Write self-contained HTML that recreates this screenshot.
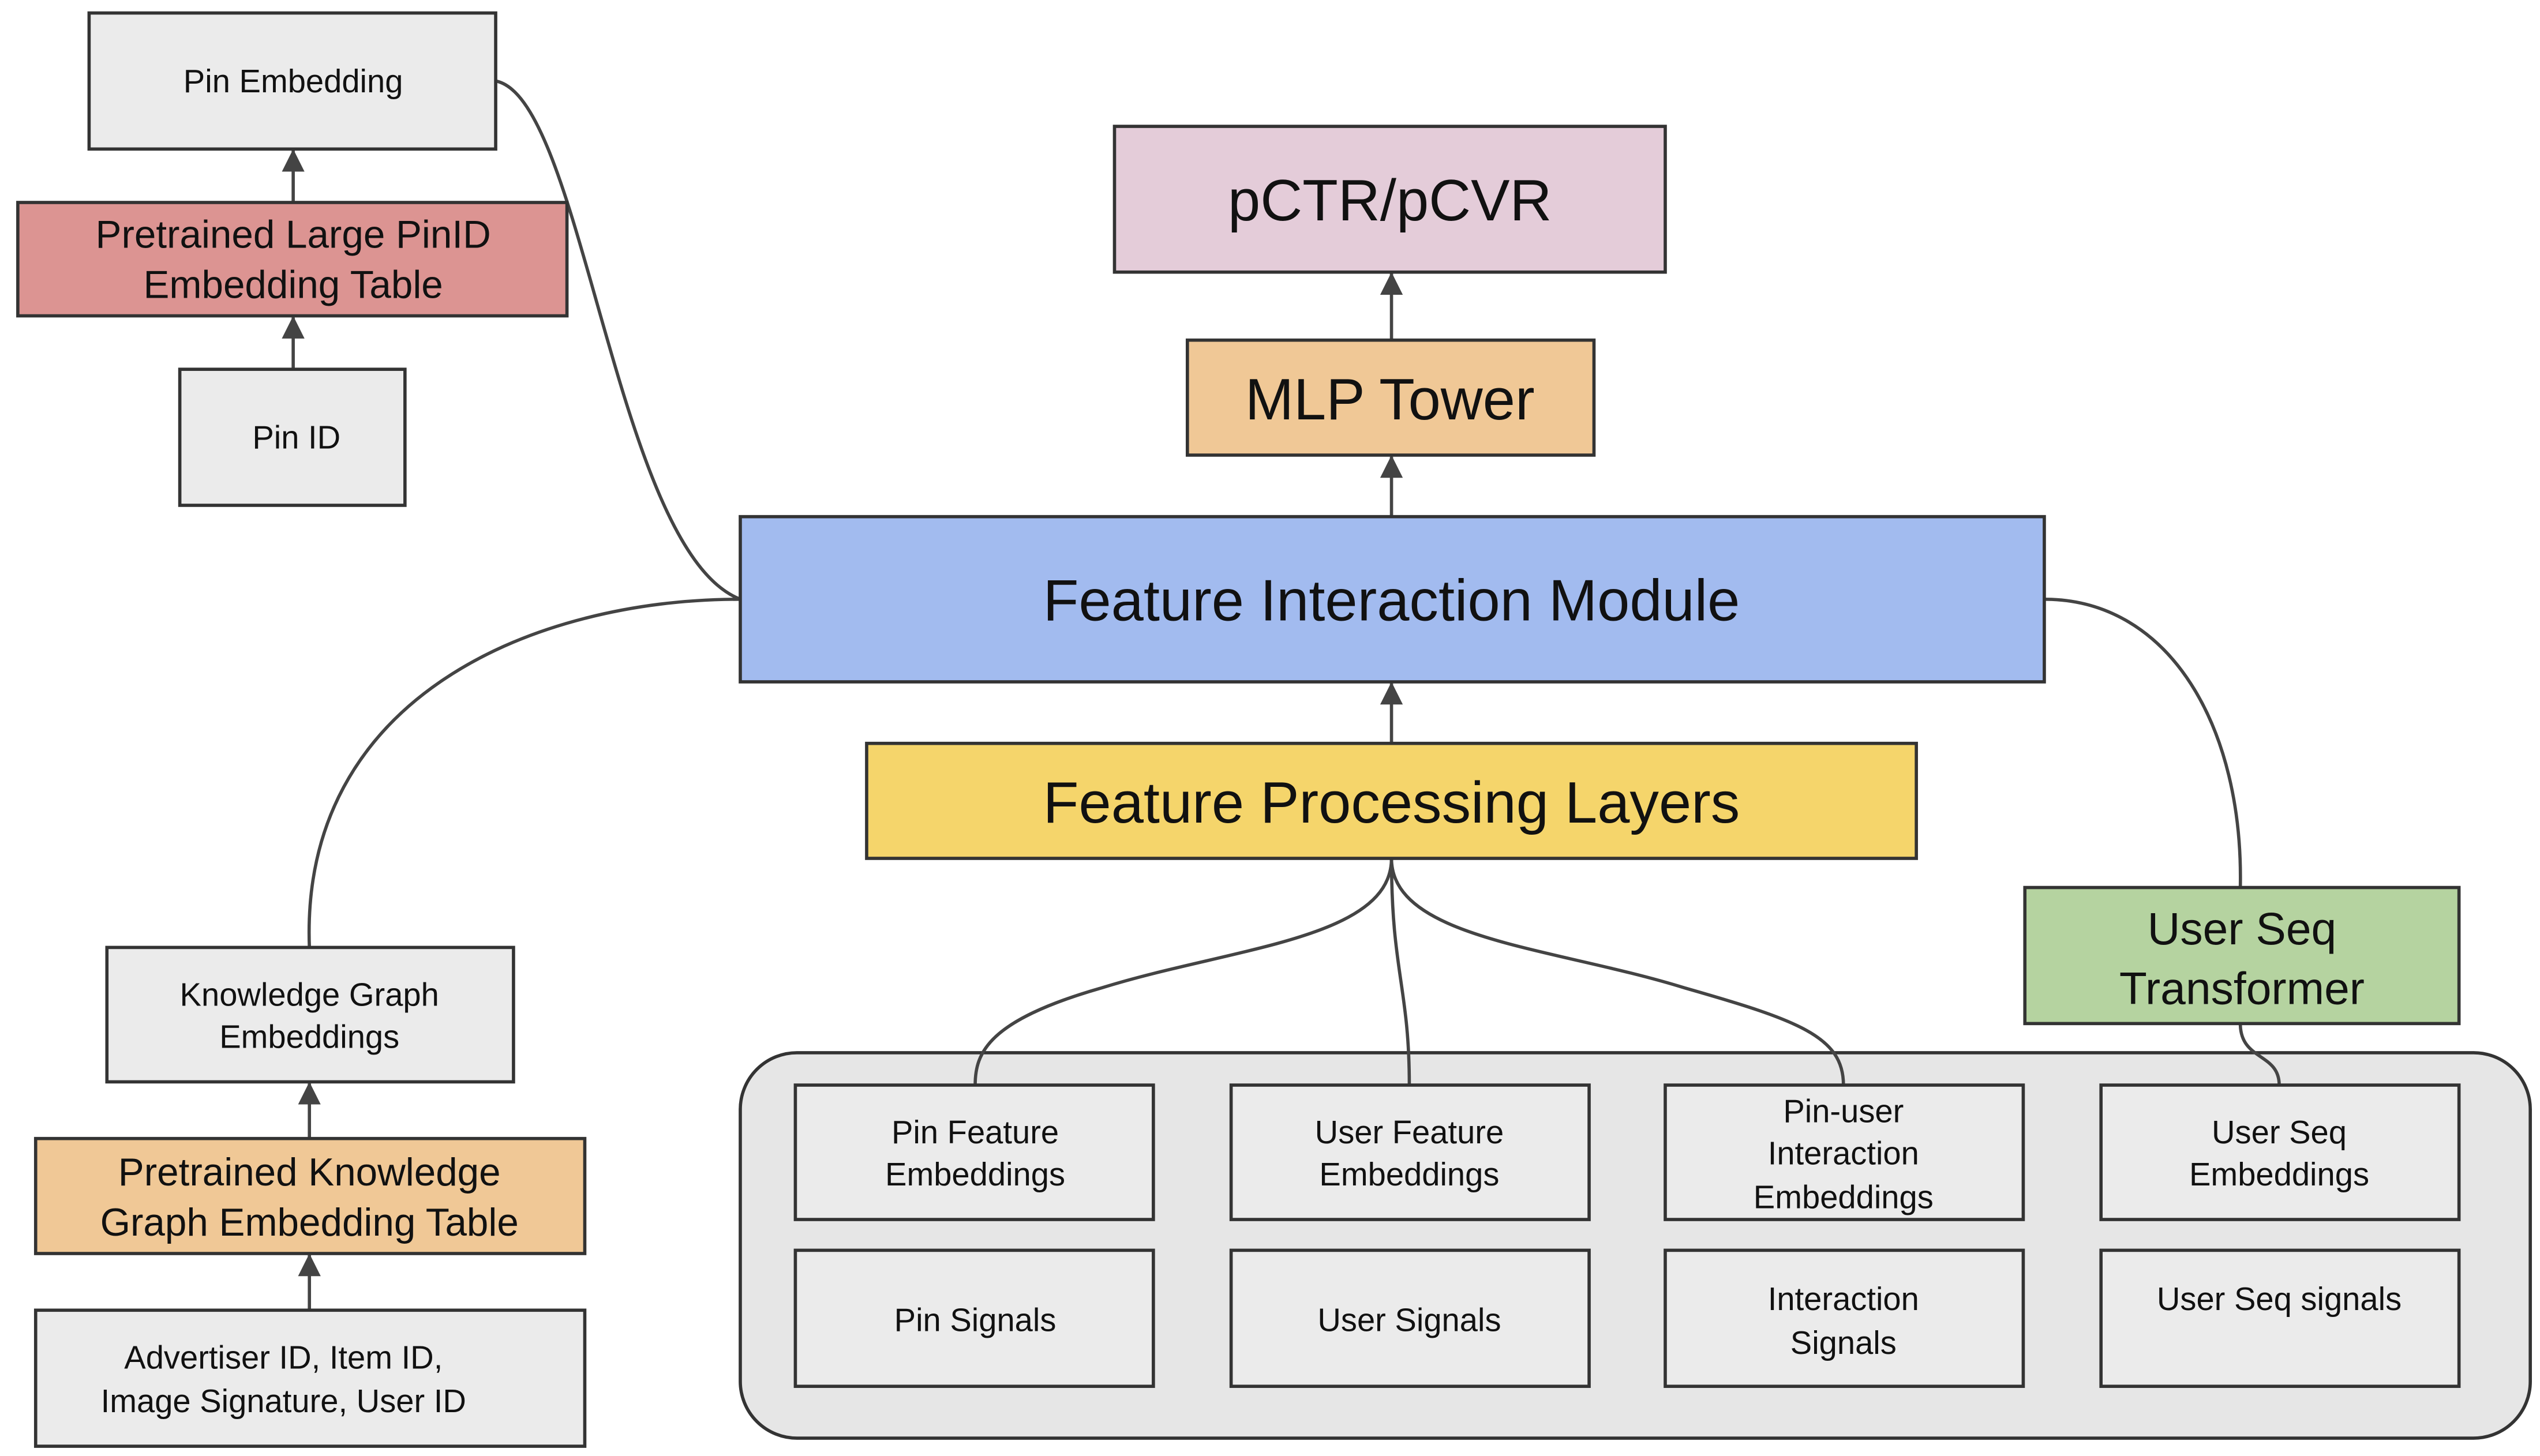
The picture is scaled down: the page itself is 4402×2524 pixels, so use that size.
<!DOCTYPE html>
<html><head><meta charset="utf-8"><style>
html,body{margin:0;padding:0;background:#fff;}
svg{display:block;}
text{font-family:"Liberation Sans",Arial,sans-serif;fill:#111;text-anchor:middle;}
.s{font-size:20px;}
.m{font-size:24px;}
.l{font-size:36px;}
.b{stroke:#333;stroke-width:2;}
.c{fill:none;stroke:#444;stroke-width:2;}
</style></head><body>
<svg width="4402" height="2524" viewBox="0 0 1568 899" xmlns="http://www.w3.org/2000/svg">
<defs>
<marker id="ar" markerWidth="14" markerHeight="14" refX="13" refY="7" orient="auto" markerUnits="userSpaceOnUse" viewBox="0 0 14 14"><path d="M0,0 L14,7 L0,14 z" fill="#444"/></marker></defs>

<!-- container -->
<rect class="b" x="457" y="650" width="1105" height="238" rx="35" fill="#e6e6e6"/>

<!-- curves -->
<path class="c" d="M306,50 C360,60 380,340 457,370"/>
<path class="c" d="M191,585 C185,430 330,370 457,370"/>
<path class="c" d="M1262,370 C1340,370 1385,450 1383,548"/>
<path class="c" d="M1383,632 C1383,655 1407,650 1407,670"/>
<path class="c" d="M859,530 C859,580 760,585 680,610 C610,630 602,650 602,670"/>
<path class="c" d="M859,530 C859,600 870,610 870,670"/>
<path class="c" d="M859,530 C859,580 960,585 1040,610 C1110,630 1138,640 1138,670"/>

<!-- arrows -->
<g class="c" marker-end="url(#ar)">
<line x1="181" y1="125" x2="181" y2="93"/>
<line x1="181" y1="228" x2="181" y2="196"/>
<line x1="859" y1="210" x2="859" y2="169"/>
<line x1="859" y1="319" x2="859" y2="282"/>
<line x1="859" y1="459" x2="859" y2="422"/>
<line x1="191" y1="703" x2="191" y2="669"/>
<line x1="191" y1="809" x2="191" y2="775"/>
</g>

<!-- left nodes -->
<rect class="b" x="55" y="8" width="251" height="84" fill="#ebebeb"/>
<text class="s" x="181" y="57">Pin Embedding</text>
<rect class="b" x="11" y="125" width="339" height="70" fill="#dc9492"/>
<text class="m" x="181" y="153">Pretrained Large PinID</text>
<text class="m" x="181" y="184">Embedding Table</text>
<rect class="b" x="111" y="228" width="139" height="84" fill="#ebebeb"/>
<text class="s" x="183" y="277">Pin ID</text>

<rect class="b" x="66" y="585" width="251" height="83" fill="#ebebeb"/>
<text class="s" x="191" y="621">Knowledge Graph</text>
<text class="s" x="191" y="647">Embeddings</text>
<rect class="b" x="22" y="703" width="339" height="71" fill="#f0c896"/>
<text class="m" x="191" y="732">Pretrained Knowledge</text>
<text class="m" x="191" y="763">Graph Embedding Table</text>
<rect class="b" x="22" y="809" width="339" height="84" fill="#ebebeb"/>
<text class="s" x="175" y="845">Advertiser ID, Item ID,</text>
<text class="s" x="175" y="872">Image Signature, User ID</text>

<!-- center nodes -->
<rect class="b" x="688" y="78" width="340" height="90" fill="#e4ccd9"/>
<text class="l" x="858" y="136">pCTR/pCVR</text>
<rect class="b" x="733" y="210" width="251" height="71" fill="#f0c896"/>
<text class="l" x="858" y="259">MLP Tower</text>
<rect class="b" x="457" y="319" width="805" height="102" fill="#a2bbef"/>
<text class="l" x="859" y="383">Feature Interaction Module</text>
<rect class="b" x="535" y="459" width="648" height="71" fill="#f5d56b"/>
<text class="l" x="859" y="508">Feature Processing Layers</text>
<rect class="b" x="1250" y="548" width="268" height="84" fill="#b5d3a0"/>
<text class="m" x="1384" y="583" style="font-size:28px">User Seq</text>
<text class="m" x="1384" y="620" style="font-size:28px">Transformer</text>

<g fill="#ebebeb" class="b">
<rect x="491" y="670" width="221" height="83"/><rect x="760" y="670" width="221" height="83"/>
<rect x="1028" y="670" width="221" height="83"/><rect x="1297" y="670" width="221" height="83"/>
<rect x="491" y="772" width="221" height="84"/><rect x="760" y="772" width="221" height="84"/>
<rect x="1028" y="772" width="221" height="84"/><rect x="1297" y="772" width="221" height="84"/>
</g>
<text class="s" x="602" y="706">Pin Feature</text><text class="s" x="602" y="732">Embeddings</text>
<text class="s" x="870" y="706">User Feature</text><text class="s" x="870" y="732">Embeddings</text>
<text class="s" x="1138" y="693">Pin-user</text><text class="s" x="1138" y="719">Interaction</text><text class="s" x="1138" y="746">Embeddings</text>
<text class="s" x="1407" y="706">User Seq</text><text class="s" x="1407" y="732">Embeddings</text>
<text class="s" x="602" y="822">Pin Signals</text>
<text class="s" x="870" y="822">User Signals</text>
<text class="s" x="1138" y="809">Interaction</text><text class="s" x="1138" y="836">Signals</text>
<text class="s" x="1407" y="809">User Seq signals</text>
</svg>
</body></html>
